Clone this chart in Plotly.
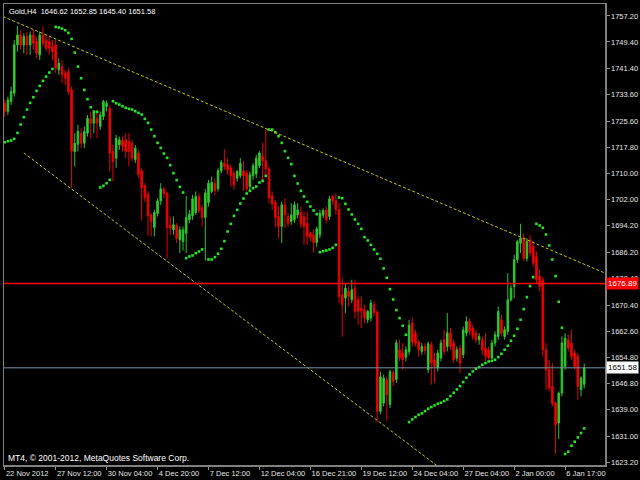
import plotly.graph_objects as go

# ---------------- data ----------------
opens = [1731.0,1728.5,1731.5,1734.0,1748.5,1751.5,1748.5,1751.0,1748.5,1751.5,
 1749.5,1745.5,1751.5,1750.0,1749.5,1748.0,1748.5,1741.0,1742.0,1740.0,
 1740.5,1735.0,1716.5,1718.7,1722.0,1719.0,1722.0,1726.3,1725.0,1726.5,
 1724.0,1727.0,1730.0,1729.5,1716.5,1714.5,1718.5,1719.8,1720.0,1719.5,
 1719.0,1714.0,1716.0,1710.7,1706.2,1703.8,1697.5,1693.7,1697.9,1701.7,
 1705.2,1704.0,1694.4,1693.0,1694.3,1690.0,1689.5,1692.0,1696.0,1697.2,
 1698.2,1703.0,1699.6,1696.7,1701.2,1704.5,1707.0,1705.3,1710.7,1713.0,
 1712.5,1711.6,1710.0,1708.5,1709.2,1710.7,1710.0,1706.0,1709.2,1709.8,
 1712.2,1715.2,1713.7,1711.3,1703.2,1701.2,1697.0,1694.0,1700.5,1697.0,
 1695.5,1696.0,1697.5,1698.2,1697.0,1695.0,1692.0,1691.5,1689.2,1691.5,
 1697.4,1699.0,1697.0,1703.0,1701.7,1699.0,1673.5,1672.5,1674.5,1672.0,
 1675.5,1672.0,1669.5,1669.0,1666.0,1666.5,1670.5,1668.2,1638.5,1641.0,
 1648.0,1640.6,1650.1,1648.1,1657.0,1656.0,1654.7,1656.4,1665.0,1662.0,
 1659.3,1656.5,1658.0,1651.0,1658.5,1654.0,1651.5,1654.5,1660.0,1657.9,
 1662.0,1659.0,1654.5,1657.5,1655.5,1662.0,1665.5,1663.5,1662.0,1660.0,
 1660.0,1657.5,1657.0,1654.5,1659.0,1661.0,1666.0,1661.0,1662.5,1672.0,
 1676.0,1684.0,1689.0,1690.5,1684.4,1690.0,1688.0,1685.0,1679.0,1678.0,
 1657.0,1651.0,1646.0,1641.0,1635.0,1644.0,1652.0,1660.0,1659.0,1656.0,
 1655.0,1645.0,1646.62]

highs = [1732.0,1733.0,1736.0,1750.0,1754.2,1753.0,1752.0,1752.5,1752.5,1753.0,
 1751.0,1752.5,1754.0,1751.5,1751.0,1750.0,1750.0,1744.5,1744.0,1741.0,
 1741.5,1736.0,1722.0,1724.5,1723.5,1724.0,1727.5,1728.5,1729.0,1729.0,
 1728.5,1732.0,1731.8,1730.5,1718.5,1721.5,1721.0,1721.0,1722.0,1722.0,
 1720.0,1718.5,1717.0,1711.5,1707.0,1704.5,1698.0,1699.0,1702.5,1707.0,
 1706.0,1704.5,1697.0,1697.0,1695.0,1694.0,1694.0,1703.2,1699.0,1703.5,
 1704.5,1704.0,1700.5,1705.3,1708.0,1709.0,1708.3,1711.5,1714.0,1717.2,
 1714.5,1712.5,1711.0,1711.0,1714.5,1713.7,1711.0,1710.5,1713.0,1715.5,
 1716.6,1719.1,1723.2,1712.0,1704.5,1702.0,1700.0,1701.5,1702.5,1698.0,
 1701.0,1701.5,1701.0,1700.0,1698.5,1698.5,1692.5,1693.0,1694.0,1699.0,
 1699.5,1700.0,1703.2,1703.5,1704.0,1701.0,1678.5,1677.0,1676.0,1678.0,
 1678.0,1673.0,1673.0,1670.5,1669.0,1672.0,1671.5,1668.9,1650.4,1649.5,
 1649.0,1651.0,1651.0,1660.0,1660.0,1659.0,1658.0,1666.0,1666.7,1663.0,
 1660.0,1659.0,1659.0,1659.5,1659.5,1656.0,1657.0,1660.0,1663.0,1668.0,
 1663.5,1660.0,1658.0,1658.5,1664.0,1667.0,1666.5,1664.5,1663.0,1662.0,
 1661.0,1662.0,1658.0,1660.0,1662.5,1670.0,1667.5,1664.0,1680.0,1676.5,
 1685.5,1690.0,1694.8,1692.0,1690.5,1691.5,1689.5,1686.5,1681.0,1679.0,
 1659.0,1654.0,1653.0,1641.5,1644.5,1661.0,1662.0,1661.5,1663.0,1657.0,
 1656.0,1649.0,1652.85]

lows = [1727.0,1727.5,1730.5,1733.0,1746.5,1747.0,1746.0,1745.5,1745.5,1747.0,
 1744.5,1744.0,1748.0,1746.5,1745.5,1744.0,1740.0,1739.5,1737.0,1736.5,
 1733.5,1705.6,1712.0,1716.5,1717.5,1717.5,1721.0,1720.5,1722.0,1720.5,
 1723.0,1726.0,1728.5,1710.5,1707.5,1711.6,1717.0,1716.5,1714.5,1712.0,
 1713.5,1713.0,1708.5,1695.8,1701.5,1691.3,1691.0,1691.0,1697.0,1700.5,
 1702.5,1684.4,1691.5,1691.5,1689.0,1686.0,1686.8,1686.0,1695.0,1696.0,
 1697.5,1698.0,1694.0,1683.8,1700.0,1704.0,1703.5,1704.5,1710.0,1711.0,
 1709.5,1706.0,1705.0,1707.5,1708.5,1704.7,1704.5,1705.0,1708.0,1708.5,
 1711.5,1707.1,1709.5,1701.0,1699.0,1693.7,1690.5,1689.0,1693.5,1694.0,
 1694.5,1695.0,1696.5,1693.5,1688.5,1688.5,1689.5,1686.2,1687.8,1690.5,
 1696.5,1695.0,1696.0,1700.5,1697.5,1671.0,1660.9,1668.0,1670.0,1671.0,
 1666.5,1664.5,1663.5,1665.0,1665.0,1665.5,1667.0,1635.2,1637.6,1640.0,
 1635.6,1639.5,1646.0,1647.0,1653.5,1651.0,1653.5,1655.5,1658.0,1658.0,
 1655.0,1655.5,1655.5,1650.0,1646.5,1647.0,1650.5,1653.5,1655.5,1656.5,
 1657.0,1653.0,1653.5,1650.0,1654.5,1661.0,1661.5,1660.0,1659.0,1658.5,
 1655.5,1653.5,1654.0,1654.2,1658.0,1660.0,1661.0,1660.0,1661.5,1671.5,
 1672.5,1683.0,1686.0,1683.5,1683.5,1685.0,1682.0,1677.0,1674.5,1655.0,
 1645.0,1644.5,1640.0,1625.7,1630.2,1643.0,1651.0,1656.5,1654.0,1651.0,
 1642.0,1643.0,1645.40]

closes = [1728.5,1732.0,1734.5,1748.5,1751.5,1748.5,1751.0,1748.5,1751.5,1749.0,
 1746.0,1751.5,1749.0,1747.5,1747.5,1746.5,1741.5,1743.0,1739.6,1738.5,
 1734.5,1716.6,1719.0,1722.6,1719.0,1722.5,1726.5,1725.0,1728.0,1725.0,
 1727.5,1731.5,1731.0,1716.0,1713.5,1720.5,1720.0,1718.0,1716.5,1716.5,
 1714.5,1717.5,1709.6,1705.6,1702.6,1697.2,1695.5,1698.2,1701.7,1705.3,
 1703.8,1693.7,1693.5,1694.5,1690.4,1693.0,1693.0,1696.7,1697.7,1702.3,
 1703.0,1698.8,1696.7,1704.1,1707.0,1707.2,1704.7,1710.7,1713.3,1712.0,
 1711.0,1709.2,1706.5,1710.5,1713.0,1709.2,1705.3,1709.5,1712.2,1714.5,
 1716.1,1713.7,1711.3,1702.6,1700.8,1696.7,1694.0,1700.5,1697.5,1695.0,
 1697.5,1700.5,1699.0,1694.8,1694.0,1691.0,1690.7,1689.2,1693.3,1697.9,
 1698.8,1696.0,1702.3,1701.7,1699.0,1673.0,1670.5,1675.5,1673.0,1675.0,
 1668.5,1668.5,1668.7,1666.5,1668.5,1671.0,1668.0,1638.5,1648.9,1648.5,
 1643.5,1650.4,1647.5,1659.1,1654.5,1654.0,1657.0,1664.4,1659.3,1659.0,
 1657.0,1658.0,1656.8,1658.8,1653.0,1652.0,1656.0,1659.0,1656.5,1662.1,
 1658.0,1654.0,1657.0,1653.0,1663.0,1665.5,1662.5,1661.0,1660.0,1661.0,
 1657.0,1655.0,1654.5,1659.0,1661.5,1668.5,1662.0,1663.0,1672.0,1675.5,
 1684.0,1689.5,1690.5,1684.4,1689.5,1686.0,1683.0,1678.0,1676.0,1657.0,
 1651.0,1645.5,1640.8,1634.5,1644.0,1659.0,1660.5,1657.5,1655.0,1652.0,
 1646.0,1648.5,1651.58]

# Parabolic SAR values (None = not visible)
sar = [1719.3,1719.6,1719.8,1720.3,1722.1,1724.6,1726.8,1729.1,1731.1,1732.8,
 1734.7,1736.2,1737.7,1739.0,1740.2,1741.3,1753.9,1753.7,1753.4,1752.9,
 1752.1,1750.3,1746.2,1742.0,1738.5,1735.0,1732.2,1729.8,1728.4,1728.4,
 1705.7,1706.2,1707.0,1708.0,1731.6,1731.0,1730.6,1730.1,1729.6,1729.3,
 1729.1,1728.6,1728.1,1727.6,1726.3,1725.1,1723.1,1721.1,1719.1,1717.6,
 1715.9,1714.6,1712.4,1710.0,1707.9,1705.9,1704.2,1684.5,1685.0,1685.3,
 1686.0,1686.5,1687.1,None,1684.1,1684.1,1684.8,1685.8,1687.3,1689.6,
 1692.5,1694.8,1697.2,1699.0,1700.9,1702.4,1703.9,1704.7,1705.5,1706.0,
 1707.2,1707.7,1709.2,1723.1,1723.1,1722.3,1721.1,1719.1,1716.6,1714.6,
 1712.7,1709.2,1706.9,1704.7,1703.0,1701.4,1700.0,1698.8,1697.7,1686.3,
 1686.6,1686.8,1687.1,1687.6,1688.5,1702.7,1702.5,1700.8,1699.1,1697.6,
 1696.1,1694.8,1693.3,1690.8,1689.8,1688.5,1687.1,1685.8,1684.3,1681.4,
 1678.6,1675.2,1672.1,1668.9,1666.5,1664.2,1661.5,1635.3,1636.1,1636.8,
 1637.5,1637.9,1638.6,1639.3,1639.8,1640.3,1640.8,1641.1,1641.6,1642.1,
 1643.1,1644.1,1645.1,1646.1,1647.3,1648.6,1649.6,1650.5,1651.3,1651.8,
 1652.5,1653.0,1653.5,1653.7,1654.0,1654.8,1655.8,1657.0,1658.2,1659.7,
 1661.2,1663.3,1666.0,1669.2,1672.8,1676.1,1678.8,1694.8,1694.3,1693.6,
 1691.6,1688.3,1684.1,1679.1,1671.4,1663.6,1625.7,1626.4,1628.2,1629.4,
 1630.7,1632.0,1633.4]

bars = list(range(len(opens)))

time_tick_bars = [0, 16, 32, 48, 64, 80, 96, 112, 128, 144, 160, 176]
time_tick_labels = ["22 Nov 2012", "27 Nov 12:00", "30 Nov 04:00", "4 Dec 20:00",
                    "7 Dec 12:00", "12 Dec 04:00", "16 Dec 21:00", "19 Dec 12:00",
                    "24 Dec 04:00", "27 Dec 04:00", "2 Jan 00:00", "6 Jan 17:00"]
price_ticks = [1757.20, 1749.40, 1741.40, 1733.60, 1725.60, 1717.80, 1710.00,
               1702.00, 1694.20, 1686.20, 1678.40, 1670.40, 1662.60, 1654.80,
               1646.80, 1639.00, 1631.00, 1623.20]

upper_trend_bars = [0, 82]
upper_trend_prices = [1756.8, 1723.4]
lower_trend_bars = [6, 117]
lower_trend_prices = [1716.1, 1635.8]

red_line_price = 1676.89
bid_price = 1651.58
symbol_title = "Gold,H4  1646.62 1652.85 1645.40 1651.58"
copyright_text = "MT4, \u00a9 2001-2012, MetaQuotes Software Corp."

# ---------------- figure ----------------
FONT = "Liberation Sans, Arial, sans-serif"
fig = go.Figure()

fig.add_trace(go.Candlestick(
    x=bars, open=opens, high=highs, low=lows, close=closes,
    increasing=dict(line=dict(color="#2cc42c", width=1), fillcolor="#34d234"),
    decreasing=dict(line=dict(color="#e80000", width=1), fillcolor="#ff0000"),
    whiskerwidth=0, showlegend=False, hoverinfo="skip"))

fig.add_trace(go.Scatter(
    x=bars, y=sar, mode="markers",
    marker=dict(symbol="square", size=2.6, color="#22e622", line=dict(width=0)),
    showlegend=False, hoverinfo="skip"))


def ray(bx, py, x_start, x_end):
    slope = (py[1] - py[0]) / (bx[1] - bx[0])
    return [x_start, x_end], [py[0] + slope * (x_start - bx[0]),
                              py[0] + slope * (x_end - bx[0])]


for bx, py, xs in [(upper_trend_bars, upper_trend_prices, -2),
                   (lower_trend_bars, lower_trend_prices, lower_trend_bars[0])]:
    tx, ty = ray(bx, py, xs, 192)
    fig.add_trace(go.Scatter(x=tx, y=ty, mode="lines",
                             line=dict(color="#c8c800", width=1, dash="3px,2px"),
                             showlegend=False, hoverinfo="skip"))

fig.add_hline(y=red_line_price, line=dict(color="#ff0000", width=1.3))
fig.add_hline(y=bid_price, line=dict(color="#7890a8", width=1))

fig.add_annotation(x=1, xref="paper", y=red_line_price, yref="y", text="1676.89",
                   xanchor="left", yanchor="middle", xshift=1, showarrow=False,
                   bgcolor="#ff0000", borderpad=1,
                   font=dict(family=FONT, size=8, color="#ffffff"))
fig.add_annotation(x=1, xref="paper", y=bid_price, yref="y", text="1651.58",
                   xanchor="left", yanchor="middle", xshift=1, showarrow=False,
                   bgcolor="#ffffff", borderpad=1,
                   font=dict(family=FONT, size=8, color="#000000"))
fig.add_annotation(x=0, xref="paper", y=1, yref="paper", text=symbol_title,
                   xanchor="left", yanchor="top", xshift=3, yshift=-1,
                   showarrow=False, font=dict(family=FONT, size=7.5, color="#ffffff"))
fig.add_annotation(x=0, xref="paper", y=0, yref="paper", text=copyright_text,
                   xanchor="left", yanchor="bottom", xshift=2, yshift=0,
                   showarrow=False, font=dict(family=FONT, size=8.5, color="#ffffff"))

fig.update_layout(
    width=640, height=480,
    margin=dict(l=2, r=34, t=2, b=14),
    paper_bgcolor="#000000", plot_bgcolor="#000000",
    font=dict(family=FONT, color="#e6e6e6"),
    showlegend=False,
    xaxis=dict(range=[-0.22, 188.53], showgrid=False, zeroline=False,
               rangeslider=dict(visible=False),
               tickmode="array", tickvals=time_tick_bars, ticktext=time_tick_labels,
               ticklabelposition="outside right", tickangle=0,
               ticks="outside", ticklen=3, tickcolor="#909090",
               tickfont=dict(family=FONT, size=7.5, color="#e6e6e6"),
               showline=True, mirror=True, linecolor="#808080", linewidth=1.5),
    yaxis=dict(range=[1622.41, 1760.78], side="right", showgrid=False, zeroline=False,
               tickmode="array", tickvals=price_ticks,
               ticktext=["%.2f" % v for v in price_ticks],
               ticks="outside", ticklen=3, tickcolor="#909090",
               tickfont=dict(family=FONT, size=7.5, color="#e6e6e6"),
               showline=True, mirror=True, linecolor="#808080", linewidth=1.5),
)

fig.write_html("out.html",
               config={"displayModeBar": False, "staticPlot": True},
               post_script="document.body.style.margin='0px';"
                           "document.body.style.padding='0px';"
                           "document.body.style.overflow='hidden';")
